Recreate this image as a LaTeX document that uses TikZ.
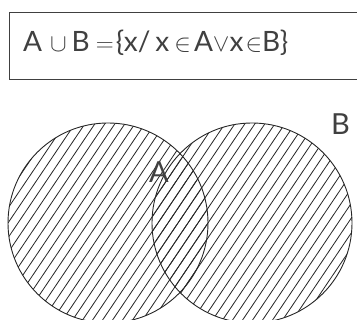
\documentclass[tikz,border=0pt]{standalone}
\usepackage{fontspec}
\setmainfont{Lato}
\usetikzlibrary{calc}
\tikzset{
  setcircle/.style={line width=0.9pt, draw=black!85},
  hatch/.style={line width=0.8pt, draw=black!85},
  formulabox/.style={line width=0.9pt, draw=black!75},
  lbl/.style={font=\fontsize{29}{34}\selectfont, text=black!75, inner sep=0pt}
}
\begin{document}
\begin{tikzpicture}[x=1pt,y=-1pt]
\useasboundingbox (0,0) rectangle (357,320);
\fill[white] (0,0) rectangle (357,320);
% formula box
\draw[formulabox] (370,12) -- (9,12) -- (9,79) -- (370,79);
\node[anchor=base west, inner sep=0pt, text=black!75, font=\fontsize{28}{34}\selectfont] (formula) at (23,52)
  {A\hspace{8pt}$\cup$\hspace{5pt}B\hspace{6pt}$=$\hspace{2pt}\{x/\hspace{5pt}x\hspace{5pt}$\in$\hspace{3pt}A$\vee$x\hspace{2pt}$\in$B\}};
% circles
\coordinate (ca) at (108,223);
\coordinate (cb) at (252,223);
\begin{scope}
  \clip (ca) circle (100);
  \foreach \i in {-40,...,40} {
    \draw[hatch] ($(108,223)+(\i*10,0)+(-0.559*250,250*0.829)$) -- ++(0.559*500,-500*0.829);
  }
\end{scope}
\begin{scope}
  \clip (cb) circle (100);
  \foreach \i in {-40,...,40} {
    \draw[hatch] ($(108,223)+(\i*10,0)+(-0.559*250,250*0.829)$) -- ++(0.559*500,-500*0.829);
  }
\end{scope}
\draw[setcircle] (ca) circle (100);
\draw[setcircle] (cb) circle (100);
\node[lbl, anchor=base west] (labA) at (149,183) {A};
\node[lbl, anchor=base west] (labB) at (331,135) {B};
\end{tikzpicture}
\end{document}
